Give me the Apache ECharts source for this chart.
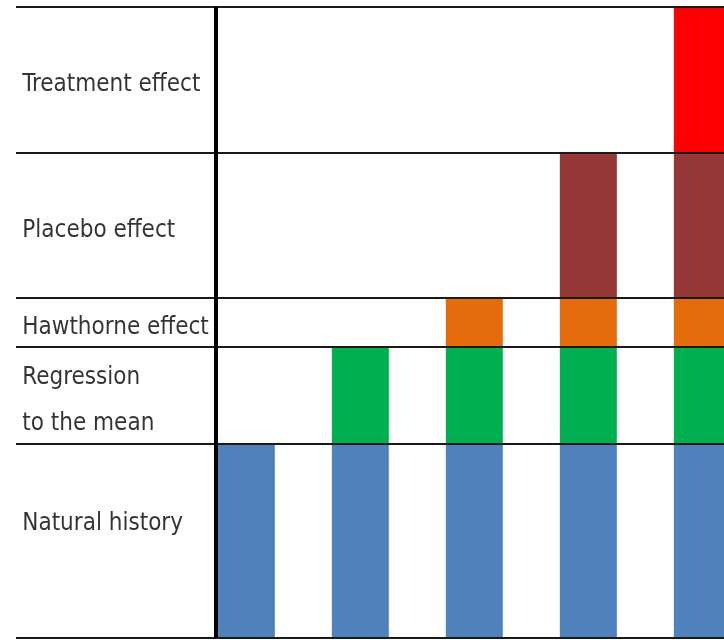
<!DOCTYPE html>
<html><head><meta charset="utf-8">
<script src="https://cdn.jsdelivr.net/npm/echarts@6/dist/echarts.min.js"></script>
<style>html,body{margin:0;padding:0;background:#fff}#c{width:724px;height:640px}</style>
</head><body><div id="c"></div>
<script>
// Layers from bottom to top
var layerNames = ['Natural history', 'Regression\nto the mean', 'Hawthorne effect', 'Placebo effect', 'Treatment effect'];
var layerHeights = [4, 2, 1, 3, 3];
var barPositions = [0, 1, 2, 3, 4];
var naturalHistory = [4, 4, 4, 4, 4];
var regression = [0, 2, 2, 2, 2];
var hawthorne = [0, 0, 1, 1, 1];
var placebo = [0, 0, 0, 3, 3];
var treatment = [0, 0, 0, 0, 3];
var layerValues = [naturalHistory, regression, hawthorne, placebo, treatment];
var colors = ['#4F81BD', '#00B050', '#E46C0A', '#953735', '#FF0000'];

var boundaries = [0];
layerHeights.forEach(function (h) { boundaries.push(boundaries[boundaries.length - 1] + h); });
var total = boundaries[boundaries.length - 1];

var X_MIN = -2.02, X_MAX = 4.19, AXIS_X = -0.27, LABEL_X = -1.965;

var series = layerValues.map(function (vals, i) {
  return {
    type: 'bar', name: layerNames[i], stack: 'all', barWidth: 57,
    itemStyle: { color: colors[i] },
    dimensions: ['v', 'pos'],
    encode: { x: 'pos', y: 'v' },
    data: vals.map(function (v, j) { return [v, barPositions[j]]; })
  };
});

var labelData = layerNames.map(function (n, i) {
  var mid = (boundaries[i] + boundaries[i + 1]) / 2;
  if (i === 0) mid += 0.45;
  return { name: n, value: [LABEL_X, mid] };
});

series.push({
  type: 'scatter', symbolSize: 0, z: 5,
  data: labelData,
  label: {
    show: true, position: 'right', distance: 0, offset: [0, 5],
    formatter: function (p) { return p.name; },
    fontFamily: 'Liberation Sans Narrow, DejaVu Sans Condensed, sans-serif',
    fontSize: 24, color: '#000', lineHeight: 46
  },
  markLine: {
    silent: true, symbol: ['none', 'none'], animation: false,
    label: { show: false },
    lineStyle: { color: '#1a1a1a', width: 2, type: 'solid' },
    data: boundaries.map(function (b) { return { yAxis: b }; }).concat([
      { xAxis: AXIS_X, lineStyle: { color: '#000', width: 4, type: 'solid' } }
    ])
  }
});

var chart = echarts.init(document.getElementById('c'));
chart.setOption({
  animation: false,
  grid: { left: 16, right: 0, top: 7, bottom: 2 },
  xAxis: { type: 'value', min: X_MIN, max: X_MAX, show: false },
  yAxis: { type: 'value', min: 0, max: total, show: false },
  series: series
});
</script></body></html>
